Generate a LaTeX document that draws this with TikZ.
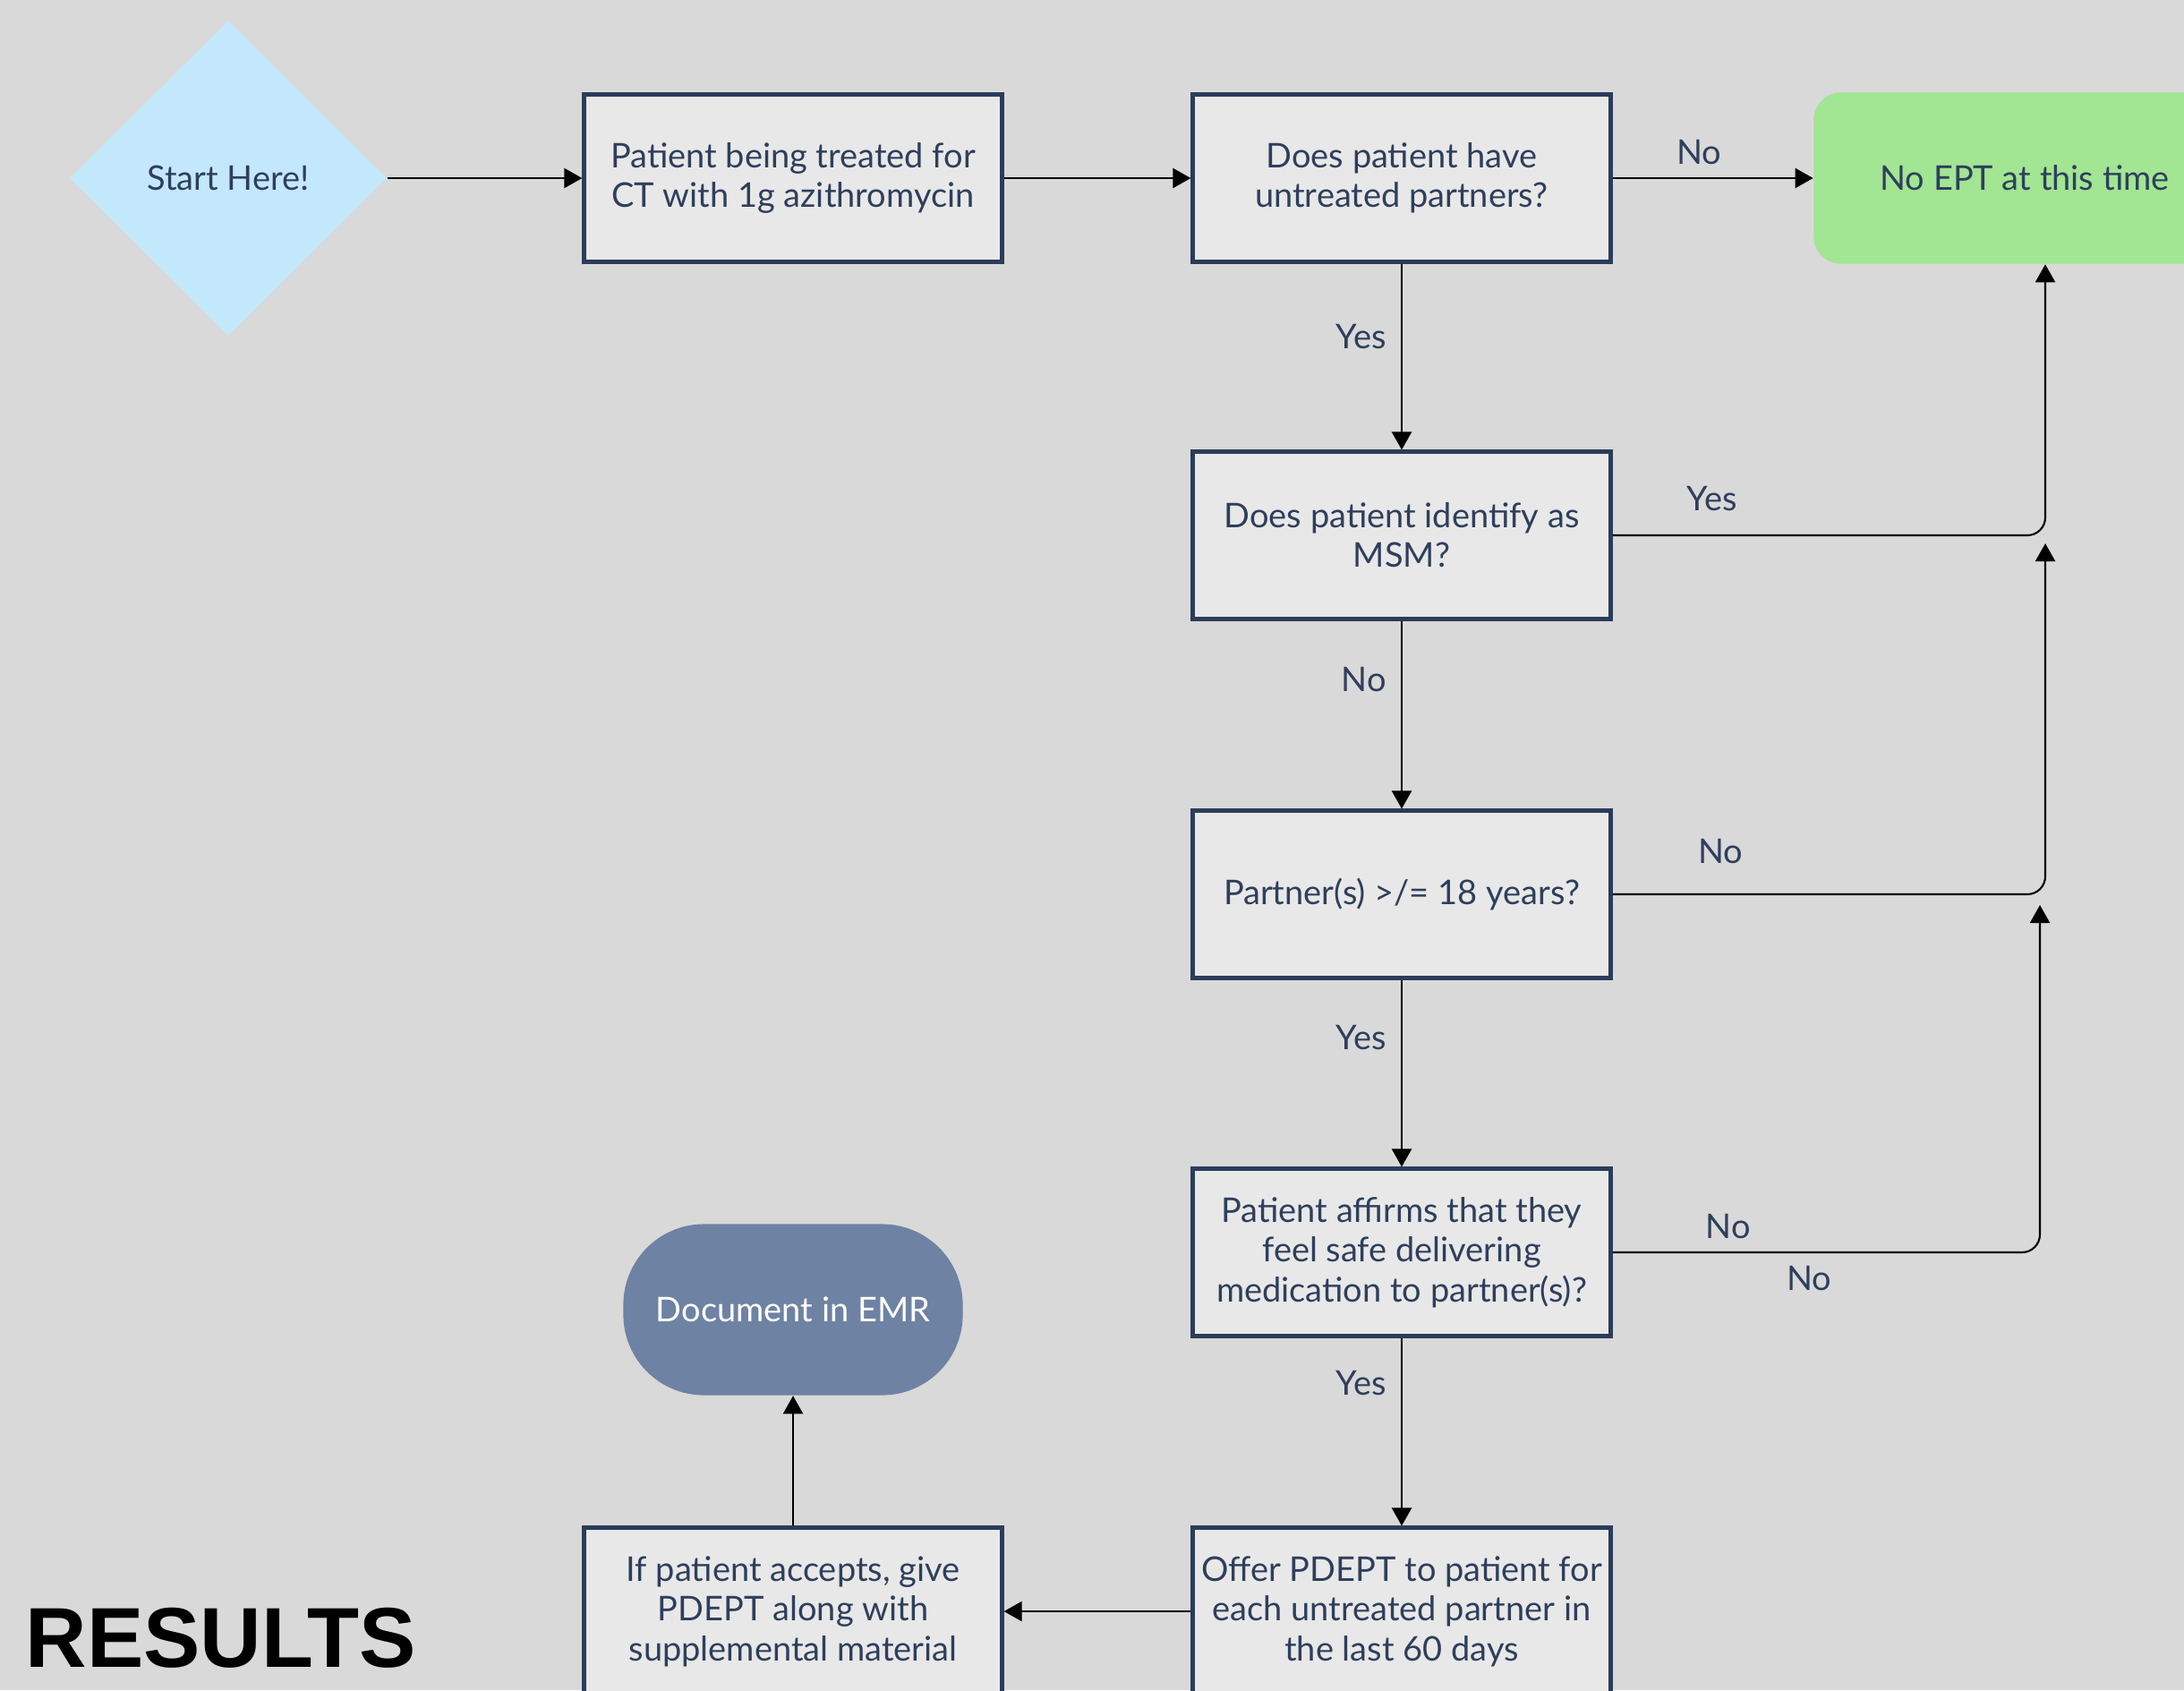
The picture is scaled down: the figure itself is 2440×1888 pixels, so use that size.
\documentclass[tikz,border=0pt]{standalone}
\usepackage{fontspec}
\setmainfont{Lato}
\newfontfamily\resultsfont{Liberation Sans}
\usetikzlibrary{shapes.geometric,arrows.meta}

\definecolor{bgc}{HTML}{D9D9D9}
\definecolor{boxfill}{HTML}{E8E8E8}
\definecolor{boxline}{HTML}{2B3C5A}
\definecolor{txtc}{HTML}{2E3F5C}
\definecolor{startc}{HTML}{C3E8FC}
\definecolor{noeptc}{HTML}{A2E593}
\definecolor{emrc}{HTML}{6E82A3}

\tikzset{
  box/.style={draw=boxline, line width=1.42pt, fill=boxfill,
    minimum width=4.66cm, minimum height=1.86cm, align=center, inner sep=0pt},
  flow/.style={draw=black, line width=0.6pt,
    -{Triangle[length=2mm,width=2.2mm]}},
  lbl/.style={text=txtc, inner sep=2pt}
}

\begin{document}
\begin{tikzpicture}[x=0.01cm, y=-0.01cm, text=txtc,
  font=\fontsize{10.8}{12.6}\selectfont]
  \useasboundingbox[fill=bgc] (0,0) rectangle (2440,1888);

  \node[diamond, fill=startc, minimum width=3.54cm, minimum height=3.52cm,
    inner sep=0pt] (start) at (255,199) {Start Here!};
  \node[box] (ptreat) at (886,199) {Patient being treated for\\CT with 1g azithromycin};
  \node[box] (untreated) at (1566,199) {Does patient have\\untreated partners?};
  \node[fill=noeptc, rounded corners=3mm, minimum width=4.71cm,
    minimum height=1.91cm] (noept) at (2262,199) {No EPT at this time};
  \node[box] (msm) at (1566,598) {Does patient identify as\\MSM?};
  \node[box] (adult) at (1566,999) {Partner(s) >/= 18 years?};
  \node[box] (safe) at (1566,1399) {Patient affirms that they\\feel safe delivering\\medication to partner(s)?};
  \node[box] (offer) at (1566,1800) {Offer PDEPT to patient for\\each untreated partner in\\the last 60 days};
  \node[box] (accept) at (886,1800) {If patient accepts, give\\PDEPT along with\\supplemental material};
  \node[fill=emrc, rounded corners=0.9cm, minimum width=3.79cm,
    minimum height=1.91cm, text=white] (emr) at (886,1463) {Document in EMR};

  \node[anchor=base west, inner sep=0pt, text=black,
    font=\resultsfont\bfseries\fontsize{27}{27}\selectfont] (results) at (28,1862) {RESULTS};

  % rails on the right
  \coordinate (rail) at (2285,0);
  \coordinate (rail2) at (2279,0);
  \coordinate (tip1) at (2285,607);
  \coordinate (tip2) at (2279,1011);

  \draw[flow] (start.east) -- (ptreat.west);
  \draw[flow] (ptreat.east) -- (untreated.west);
  \draw[flow] (untreated.east) -- node[lbl, above=2pt, pos=0.43]{No} (noept.west);
  \draw[flow] (untreated.south) -- node[lbl, left=2.6pt, pos=0.39]{Yes} (msm.north);
  \draw[flow, rounded corners=2mm] (msm.east) -- node[lbl, above=5.5pt, pos=0.23]{Yes}
    (msm.east -| rail) -- (rail |- noept.south);
  \draw[flow] (msm.south) -- node[lbl, left=2.6pt, pos=0.31]{No} (adult.north);
  \draw[flow, rounded corners=2mm] (adult.east) -- node[lbl, above=7.5pt, pos=0.25]{No}
    (adult.east -| rail) -- (tip1);
  \draw[flow] (adult.south) -- node[lbl, left=2.6pt, pos=0.31]{Yes} (safe.north);
  \draw[flow, rounded corners=2mm] (safe.east) -- node[lbl, above=2pt, pos=0.27]{No}
    node[lbl, below=2pt, pos=0.46]{No} (safe.east -| rail2) -- (tip2);
  \draw[flow] (safe.south) -- node[lbl, left=2.6pt, pos=0.24]{Yes} (offer.north);
  \draw[flow] (offer.west) -- (accept.east);
  \draw[flow] (accept.north) -- (emr.south);
\end{tikzpicture}
\end{document}
